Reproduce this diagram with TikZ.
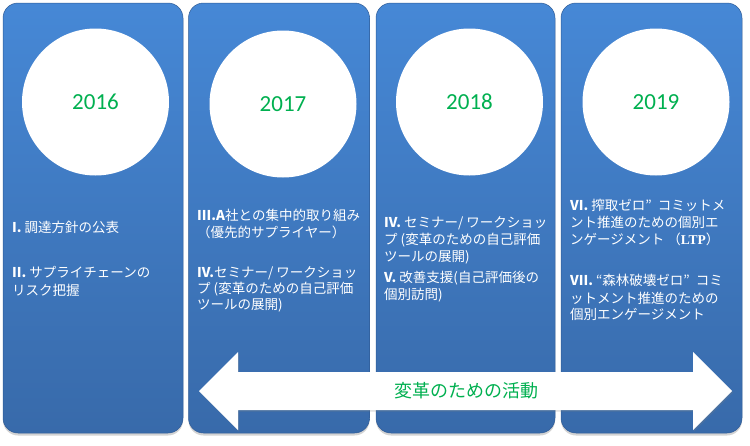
\documentclass[tikz,border=0pt]{standalone}
\usepackage{fontspec}
\setmainfont{Noto Sans CJK JP}
\newfontfamily\yearfont{Carlito}
\newfontfamily\serifb{Liberation Serif}
\usetikzlibrary{shadows}
\definecolor{boxtop}{RGB}{70,136,214}
\definecolor{boxbot}{RGB}{56,106,170}
\definecolor{boxedge}{RGB}{48,92,150}
\definecolor{yeargreen}{RGB}{0,176,80}
\tikzset{
  colbox/.style={rectangle, rounded corners=15pt, minimum width=#1, minimum height=430pt,
    top color=boxtop, bottom color=boxbot, draw=boxedge, line width=0.5pt,
    drop shadow={opacity=0.35, shadow xshift=0pt, shadow yshift=-2.5pt}},
  yearcircle/.style={circle, fill=white, minimum size=147pt, inner sep=0pt,
    text=yeargreen, font=\yearfont\fontsize{23}{27}\selectfont},
  item/.style={anchor=west, inner sep=0pt, text=white, font=\fontsize{13.5}{16}\selectfont},
  arrowshape/.style={fill=white, draw=none, drop shadow={opacity=0.25, shadow xshift=1pt, shadow yshift=-1.5pt}},
  arrowlabel/.style={text=yeargreen, inner sep=0pt, font=\fontsize{18}{20}\selectfont},
}
\begin{document}
\begin{tikzpicture}[x=1pt,y=-1pt]
\useasboundingbox (0,0) rectangle (750,445);
% columns
\node[colbox=180pt] (c1) at (93,218) {};
\node[colbox=181pt] (c2) at (279,218) {};
\node[colbox=179pt] (c3) at (465.5,218) {};
\node[colbox=181pt] (c4) at (651.5,218) {};
% year circles
\node[yearcircle] (y1) at (95.5,102) {2016};
\node[yearcircle] (y2) at (283,104) {2017};
\node[yearcircle] (y3) at (469.5,102) {2018};
\node[yearcircle] (y4) at (656,102) {2019};
% column 1
\node[item] (t11) at (12,227) {\textbf{I.} 調達方針の公表};
\node[item] (t12) at (12,272) {\textbf{II.} サプライチェーンの};
\node[item] (t13) at (12,290) {リスク把握};
% column 2
\node[item] (t21) at (197,215) {\textbf{III.A}社との集中的取り組み};
\node[item] (t22) at (197,232) {（優先的サプライヤー）};
\node[item] (t23) at (197,273) {\textbf{IV.}セミナー/ ワークショッ};
\node[item] (t24) at (197,289) {プ (変革のための自己評価};
\node[item] (t25) at (197,305) {ツールの展開)};
% column 3
\node[item] (t31) at (384,223) {\textbf{IV.} セミナー/ ワークショッ};
\node[item] (t32) at (384,240) {プ (変革のための自己評価};
\node[item] (t33) at (384,257) {ツールの展開)};
\node[item] (t34) at (384,278) {\textbf{V.} 改善支援(自己評価後の};
\node[item] (t35) at (384,295) {個別訪問)};
% column 4
\node[item] (t41) at (570,205) {\textbf{VI.} 搾取ゼロ”\hspace{0.45em}コミットメ};
\node[item] (t42) at (570,222) {ント推進のための個別エ};
\node[item] (t43) at (570,239) {ンゲージメント （{\serifb\bfseries LTP}）};
\node[item] (t44) at (570,280) {\textbf{VII.} “森林破壊ゼロ”\hspace{0.45em}コミ};
\node[item] (t45) at (570,298) {ットメント推進のための};
\node[item] (t46) at (570,314) {個別エンゲージメント};
% double arrow
\coordinate (al) at (199,391);
\coordinate (ar) at (732,391);
\fill[arrowshape] (al) -- (238,352) -- (238,372) -- (693,372) -- (693,352) -- (ar)
  -- (693,430) -- (693,410) -- (238,410) -- (238,430) -- cycle;
\node[arrowlabel] (alabel) at (466,391) {変革のための活動};
\end{tikzpicture}
\end{document}
